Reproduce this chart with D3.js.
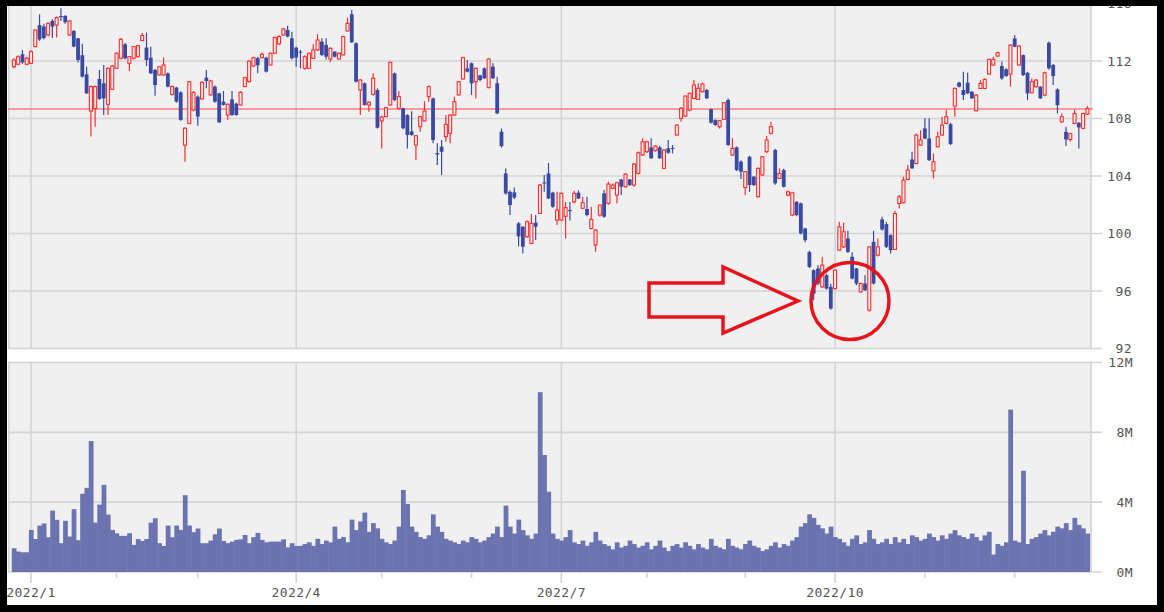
<!DOCTYPE html>
<html><head><meta charset="utf-8">
<script src="https://cdn.jsdelivr.net/npm/d3@7"></script>
<style>body{margin:0;background:#fff}svg{display:block}</style>
</head><body><svg id="c" width="1164" height="612"></svg>
<script>
// ---- DATA (trading-day index 0 = 2021/12/28 ... 251 = 2022/12/27) ----
const openP = [111.6,111.77,112.47,111.77,111.84,113.0,114.5,114.4,113.81,114.79,114.5,115.13,115.13,113.81,114.09,113.58,112.4,111.07,108.52,108.7,
110.75,110.45,108.99,110.03,111.49,112.19,113.16,111.84,112.19,112.3,113.42,112.93,112.23,111.38,111.03,111.03,111.14,109.68,110.15,109.82,
106.15,107.66,108.59,109.52,109.36,110.84,109.64,110.22,109.75,109.17,108.24,109.33,109.03,108.94,110.22,110.56,111.65,112.2,112.23,112.23,
111.72,112.54,113.2,113.81,114.16,113.58,112.93,112.65,111.49,111.49,112.19,112.77,113.35,113.12,112.14,112.65,112.14,112.42,114.09,115.25,
113.23,109.98,110.45,108.94,109.68,109.98,107.83,108.13,108.94,111.14,108.71,108.71,108.24,107.1,106.15,107.43,107.83,109.52,109.4,105.6,
106.04,106.74,106.97,108.24,109.64,110.75,111.49,111.84,110.56,111.0,111.49,110.15,111.61,110.45,107.08,104.18,102.9,102.86,100.7,100.47,
99.77,99.31,100.75,101.4,103.55,104.18,102.84,100.93,100.93,101.2,101.63,102.2,102.84,101.75,101.7,100.35,99.2,101.28,102.79,102.09,
103.14,102.67,103.76,103.25,103.76,103.37,104.18,105.46,105.69,105.99,105.76,105.99,104.53,105.92,105.95,106.85,108.01,108.17,108.59,109.4,
109.33,109.87,109.98,108.64,107.89,107.43,107.94,109.29,105.46,105.99,105.0,103.2,105.34,103.95,102.56,104.07,105.69,106.97,105.81,103.83,
104.41,102.67,101.28,102.2,102.09,100.35,98.72,97.45,97.56,96.29,97.1,96.29,96.17,98.84,99.07,99.65,98.38,97.56,95.94,96.52,
94.67,99.42,98.49,100.98,100.65,99.88,98.89,102.09,102.14,103.76,105.15,104.87,106.15,107.31,106.61,104.36,106.03,106.85,107.66,107.61,
108.86,110.49,109.98,110.49,109.86,108.54,110.09,110.09,111.09,111.72,112.34,111.65,111.42,111.09,113.57,111.72,112.41,111.18,109.79,110.21,
110.21,109.63,113.27,111.72,110.02,107.77,107.08,106.54,107.66,107.7,107.31,108.31];
const highP = [112.2,112.4,112.77,112.3,112.75,114.2,115.25,114.6,114.7,114.9,115.1,115.67,115.2,114.85,114.15,113.6,113.2,111.6,110.3,110.3,
111.38,111.72,111.55,111.7,112.6,113.6,113.25,112.35,113.05,113.1,113.95,113.98,113.0,111.45,111.65,112.25,111.2,110.3,110.2,109.9,
107.4,110.6,109.9,109.6,110.6,111.38,110.7,110.3,109.8,109.91,109.05,109.91,109.1,109.9,110.9,112.05,112.3,112.3,112.6,112.3,
112.6,113.7,113.8,114.3,114.46,114.04,113.0,112.77,112.4,112.6,113.16,113.86,113.58,113.58,112.95,112.7,112.6,113.75,115.02,115.55,
113.3,110.75,110.5,109.2,111.14,110.1,108.2,108.8,111.95,111.2,109.91,108.75,108.3,108.5,106.85,108.2,109.2,110.3,109.45,106.27,
106.5,108.24,108.3,109.52,110.6,112.3,112.07,111.9,111.55,111.05,111.55,112.2,111.84,110.91,107.3,104.53,103.0,103.2,100.8,100.5,
100.9,101.35,101.28,103.45,104.07,104.9,102.9,102.9,102.85,102.2,102.2,102.98,103.0,102.56,102.56,101.86,100.3,102.0,103.02,103.6,
103.5,103.6,103.8,104.2,103.8,104.9,105.7,106.62,106.45,106.62,106.15,106.1,105.85,106.5,106.15,107.6,108.8,109.6,109.8,110.68,
110.45,110.5,110.05,108.7,107.95,107.9,109.15,109.4,106.62,106.05,105.1,104.35,105.4,104.0,104.6,105.4,106.78,107.78,105.9,104.53,
104.5,103.0,102.9,102.25,102.15,100.4,98.8,97.5,97.8,98.38,97.2,96.5,97.5,100.81,100.74,100.19,98.7,97.6,96.6,97.1,
99.1,100.19,99.65,101.16,100.8,99.95,101.58,102.67,103.95,104.76,105.69,106.96,107.19,108.01,108.01,105.57,107.08,108.12,108.59,107.7,
110.15,110.56,111.25,111.18,109.9,109.7,110.67,110.8,112.15,112.3,112.65,111.95,111.5,113.15,113.81,113.1,112.45,111.25,110.79,110.75,
110.25,111.25,113.35,111.8,110.1,108.35,107.43,107.0,108.59,107.75,108.4,108.86];
const lowP = [111.5,111.7,111.8,111.7,111.8,112.95,113.4,113.5,113.7,113.6,113.63,114.79,114.6,113.75,112.95,111.9,110.85,109.7,106.74,107.43,
109.3,108.24,108.24,110.0,111.45,112.1,112.1,111.31,112.1,112.25,113.4,111.65,111.1,109.59,111.0,111.0,110.15,109.6,109.1,107.85,
104.99,107.6,108.5,107.5,109.3,110.1,109.6,109.1,107.7,108.9,107.9,108.2,108.2,108.9,110.2,110.5,111.6,111.14,112.2,111.2,
111.7,112.5,113.1,113.75,113.65,112.1,111.61,111.49,111.4,111.45,112.15,112.7,112.35,112.1,111.91,112.25,112.1,112.4,114.05,113.25,
110.5,108.24,108.9,108.47,109.6,107.3,105.92,108.1,108.9,109.2,108.6,107.25,105.92,106.8,105.11,107.08,107.8,109.17,106.27,104.76,
104.07,106.39,106.27,108.2,109.6,110.7,111.2,109.64,109.4,110.6,110.75,110.1,110.75,108.3,105.97,102.7,101.28,102.4,99.1,98.61,
99.7,99.25,99.54,101.35,102.9,102.4,101.8,100.6,100.9,99.66,100.9,102.1,102.4,101.7,101.2,100.3,98.73,101.17,101.1,102.0,
103.1,102.09,102.67,103.2,103.3,103.25,104.1,105.4,105.6,105.2,105.7,105.2,104.5,105.55,105.57,106.8,107.78,108.1,108.5,109.35,
109.3,109.8,109.35,107.65,107.5,107.3,107.9,106.1,105.4,104.35,103.8,102.67,102.9,103.3,102.5,104.0,105.6,106.9,103.4,103.8,
103.2,102.6,101.2,101.2,99.95,99.4,97.6,95.36,96.4,96.2,96.1,94.7,96.1,98.8,99.0,98.65,96.8,96.4,95.9,96.0,
94.55,96.45,98.4,100.2,99.0,98.61,98.85,101.74,102.1,103.7,104.5,104.8,106.1,106.55,105.05,103.83,106.0,106.8,107.6,106.15,
108.12,110.15,109.28,109.7,109.35,108.5,110.05,110.05,111.05,111.7,112.3,110.7,110.9,110.21,112.95,111.7,110.95,109.28,109.75,110.15,
109.35,109.55,111.4,110.33,108.35,107.7,106.08,106.4,107.6,105.92,107.25,108.25];
const closeP = [112.07,112.3,111.9,112.19,112.65,114.16,113.5,113.6,114.62,114.4,115.02,115.05,114.7,114.79,113.0,112.07,110.91,109.75,110.22,110.22,
109.36,109.4,111.49,111.65,112.54,113.51,112.19,112.3,113.0,113.07,113.77,112.07,111.14,110.33,111.6,111.72,110.22,110.22,109.17,107.9,
107.32,110.56,109.82,108.13,110.52,110.61,110.61,109.17,107.73,108.94,108.99,108.24,108.24,109.82,110.84,111.99,112.23,111.7,112.47,111.26,
112.54,113.63,113.7,114.23,113.7,112.19,112.23,112.6,112.3,112.54,112.77,113.46,112.42,112.3,112.88,112.3,112.54,113.7,114.62,113.3,
110.56,110.68,108.94,109.13,110.8,107.36,108.1,108.75,111.91,109.29,109.52,107.32,106.85,106.85,106.8,108.13,108.52,110.22,106.5,105.5,
105.69,107.59,108.24,109.17,110.56,112.23,111.26,110.45,111.49,110.68,110.8,112.14,110.8,108.36,106.08,102.79,101.98,102.5,99.8,99.08,
100.82,100.7,100.47,103.37,103.5,102.44,101.86,101.63,102.79,101.8,101.55,102.79,102.44,102.14,101.28,100.98,100.24,101.98,101.17,103.44,
103.37,103.53,103.25,104.13,103.37,104.83,105.62,106.38,106.38,105.23,106.08,105.23,105.81,105.62,105.9,107.54,108.71,109.56,109.75,110.33,
110.1,110.4,109.4,107.71,107.54,107.85,109.1,106.15,105.92,104.41,104.3,104.3,103.37,103.37,104.53,105.34,106.5,107.43,103.49,104.18,
103.25,102.9,102.83,101.28,100.0,99.54,97.68,95.82,96.52,97.8,96.17,94.78,97.45,100.46,100.12,98.72,96.87,96.52,96.52,96.06,
99.07,96.52,99.07,100.28,99.07,98.84,101.39,102.55,103.71,104.41,104.53,106.85,106.5,106.61,105.1,104.99,106.73,107.54,108.12,106.22,
110.09,110.21,109.63,109.75,109.4,109.63,110.44,110.72,112.11,112.11,112.58,110.79,110.95,113.11,112.99,113.04,111.02,109.75,110.56,110.67,
109.4,111.18,111.49,110.95,108.93,108.12,106.54,106.96,108.35,107.38,108.35,108.7];
const volumeM = [1.36,1.17,1.13,1.13,2.41,1.89,2.66,2.78,1.99,3.52,2.99,1.65,2.93,2.03,3.6,1.82,4.48,4.82,7.5,2.83,
3.86,4.99,3.29,2.41,2.22,2.07,2.07,2.22,1.55,1.89,1.78,1.89,2.83,3.08,1.65,1.49,2.66,1.99,2.66,2.41,
4.4,2.66,2.28,2.49,1.65,1.65,1.8,2.16,2.49,1.78,1.65,1.74,1.84,1.87,2.12,1.65,1.99,2.24,1.84,1.7,
1.74,1.74,1.74,1.87,1.41,1.65,1.49,1.5,1.6,1.7,1.5,1.9,1.6,1.8,1.7,2.6,1.9,2.0,1.7,3.0,
2.4,2.9,3.4,2.3,2.8,2.5,1.9,1.7,1.6,1.8,2.6,4.7,3.9,2.6,2.3,2.0,1.9,2.1,3.3,2.6,
2.3,1.9,1.8,1.7,1.6,1.8,1.7,2.0,1.9,1.7,1.8,2.0,2.2,2.6,2.0,3.8,2.6,2.2,3.0,2.4,
2.1,1.9,2.2,10.3,6.7,4.6,2.2,1.9,1.8,2.0,2.4,1.7,1.6,1.8,1.5,1.7,2.3,1.8,1.6,1.5,
1.3,1.7,1.4,1.5,1.8,1.6,1.4,1.5,1.7,1.3,1.5,1.8,1.4,1.2,1.5,1.6,1.4,1.7,1.5,1.3,
1.6,1.4,1.3,1.9,1.5,1.4,1.3,1.9,1.5,1.4,1.3,1.6,1.8,1.5,1.4,1.2,1.3,1.5,1.7,1.4,
1.6,1.5,1.8,2.0,2.6,2.8,3.3,3.1,2.7,2.5,2.2,2.6,2.0,1.9,1.7,1.5,1.9,2.1,1.6,1.7,
2.4,1.9,1.6,1.7,1.9,1.6,2.0,1.7,1.9,1.6,2.1,2.0,1.8,1.9,2.2,2.0,1.8,2.1,1.9,2.2,
2.4,2.1,2.0,1.9,2.2,2.0,1.8,2.1,2.3,1.0,1.6,1.5,1.7,9.3,1.8,1.7,5.8,1.6,1.9,2.0,
2.2,2.4,2.1,2.3,2.6,2.5,2.8,2.4,3.1,2.7,2.5,2.2];
const quarterTickIdx = [4, 66, 128, 192];
const quarterLabels = ["2022/1", "2022/4", "2022/7", "2022/10"];
const monthTickIdx = [24, 43, 86, 107, 148, 171, 213, 234];
const priceTicks = [92, 96, 100, 104, 108, 112, 116];
const volumeTicks = [0, 4, 8, 12];
const volumeTickLabels = ["0M", "4M", "8M", "12M"];
const referencePrice = 108.66;

// ---- LAYOUT ----
const N = closeP.length;
const plotL = 8, plotR = 1091;
const pTop = 0, pBot = 348.5;
const vTop = 362.5, vBot = 572;
const svg = d3.select("#c");
const x = d3.scaleLinear().domain([0, N - 1]).range([13.9, 1087.4]);
const step = x(1) - x(0);
const y = d3.scaleLinear().domain([92, 116]).range([348.5, 3.5]);
const yv = d3.scaleLinear().domain([0, 12]).range([572, 362.5]);
const gridC = "#d4d4d4", labelC = "#555";
const UP = "#ff2d2d", DOWN = "#3a4aa2", VOLC = "#6b73b0";
const FONT = "'DejaVu Sans Mono', monospace";

// backgrounds
svg.append("rect").attr("x", plotL).attr("y", pTop).attr("width", plotR - plotL).attr("height", pBot - pTop).attr("fill", "#f0f0f0");
svg.append("rect").attr("x", plotL).attr("y", vTop).attr("width", plotR - plotL).attr("height", vBot - vTop).attr("fill", "#f0f0f0");

// horizontal grid
svg.append("g").selectAll("line").data(priceTicks).join("line")
  .attr("x1", plotL).attr("x2", plotR + 11).attr("y1", d => y(d)).attr("y2", d => y(d))
  .attr("stroke", gridC).attr("stroke-width", 1.6);
svg.append("g").selectAll("line").data(volumeTicks).join("line")
  .attr("x1", plotL).attr("x2", plotR + 11).attr("y1", d => yv(d)).attr("y2", d => yv(d))
  .attr("stroke", gridC).attr("stroke-width", 1.6);
// vertical grid
const vx = quarterTickIdx.map(i => x(i)).concat([plotR]);
[[pTop, pBot], [vTop, vBot]].forEach(([a, b]) => {
  svg.append("g").selectAll("line").data(vx).join("line")
    .attr("x1", d => d).attr("x2", d => d).attr("y1", a).attr("y2", b)
    .attr("stroke", gridC).attr("stroke-width", 1.6);
});
svg.append("line").attr("x1", plotL + 0.8).attr("x2", plotL + 0.8).attr("y1", pTop).attr("y2", pBot).attr("stroke", gridC).attr("stroke-width", 1.6);
svg.append("line").attr("x1", plotL + 0.8).attr("x2", plotL + 0.8).attr("y1", vTop).attr("y2", vBot).attr("stroke", gridC).attr("stroke-width", 1.6);

// x axis ticks
svg.append("g").selectAll("line").data(monthTickIdx).join("line")
  .attr("x1", d => x(d)).attr("x2", d => x(d)).attr("y1", vBot).attr("y2", vBot + 6)
  .attr("stroke", gridC).attr("stroke-width", 1.6);
svg.append("g").selectAll("line").data(quarterTickIdx).join("line")
  .attr("x1", d => x(d)).attr("x2", d => x(d)).attr("y1", vBot).attr("y2", vBot + 11)
  .attr("stroke", gridC).attr("stroke-width", 1.6);
svg.append("g").selectAll("text").data(quarterTickIdx).join("text")
  .attr("x", d => x(d)).attr("y", 597).attr("text-anchor", "middle")
  .attr("font-family", FONT).attr("font-size", 13).attr("letter-spacing", 0.4).attr("fill", labelC)
  .text((d, i) => quarterLabels[i]);

// reference line
svg.append("line").attr("x1", plotL).attr("x2", plotR + 2).attr("y1", y(referencePrice)).attr("y2", y(referencePrice))
  .attr("stroke", "#ff7b7b").attr("stroke-width", 1.5);

// candles
const idx = d3.range(N);
const cg = svg.append("g");
cg.selectAll("line").data(idx).join("line")
  .attr("x1", i => x(i)).attr("x2", i => x(i))
  .attr("y1", i => y(highP[i])).attr("y2", i => y(lowP[i]))
  .attr("stroke", i => closeP[i] >= openP[i] ? UP : DOWN).attr("stroke-width", 1.2);
cg.selectAll("rect").data(idx).join("rect")
  .attr("x", i => closeP[i] >= openP[i] ? x(i) - 1.5 : x(i) - 1.9)
  .attr("width", i => closeP[i] >= openP[i] ? 3 : 3.8)
  .attr("y", i => y(Math.max(openP[i], closeP[i])))
  .attr("height", i => Math.max(1, Math.abs(y(openP[i]) - y(closeP[i]))))
  .attr("fill", i => closeP[i] >= openP[i] ? "#f7efef" : DOWN)
  .attr("stroke", i => closeP[i] >= openP[i] ? UP : "none")
  .attr("stroke-width", 1.1);

// volume
svg.append("g").selectAll("rect").data(idx).join("rect")
  .attr("x", i => x(i) - step / 2).attr("width", step + 0.5)
  .attr("y", i => yv(volumeM[i])).attr("height", i => vBot - yv(volumeM[i]))
  .attr("fill", VOLC);

// y labels
svg.append("g").selectAll("text").data(priceTicks).join("text")
  .attr("x", 1132).attr("y", d => y(d) + 4.5).attr("text-anchor", "end")
  .attr("font-family", FONT).attr("font-size", 13).attr("letter-spacing", 0.4).attr("fill", labelC)
  .text(d => d);
svg.append("g").selectAll("text").data(volumeTicks).join("text")
  .attr("x", 1133).attr("y", d => yv(d) + 4.5).attr("text-anchor", "end")
  .attr("font-family", FONT).attr("font-size", 13).attr("letter-spacing", 0.4).attr("fill", labelC)
  .text((d, i) => volumeTickLabels[i]);

// annotation: arrow and circle
const AR = "#e8131b";
svg.append("polygon")
  .attr("points", "649,283 723,283 723,267 798,301 723,333 723,317 649,317")
  .attr("fill", "none").attr("stroke", AR).attr("stroke-width", 3.5).attr("stroke-linejoin", "miter");
svg.append("ellipse").attr("cx", 850).attr("cy", 301).attr("rx", 39).attr("ry", 38.5)
  .attr("fill", "none").attr("stroke", AR).attr("stroke-width", 3.5);

// black frame
svg.append("rect").attr("x", 0).attr("y", 0).attr("width", 7).attr("height", 612).attr("fill", "#000");
svg.append("rect").attr("x", 0).attr("y", 0).attr("width", 1164).attr("height", 6).attr("fill", "#000");
svg.append("rect").attr("x", 1157).attr("y", 0).attr("width", 7).attr("height", 612).attr("fill", "#000");
svg.append("rect").attr("x", 0).attr("y", 605).attr("width", 1164).attr("height", 7).attr("fill", "#000");
</script></body></html>
